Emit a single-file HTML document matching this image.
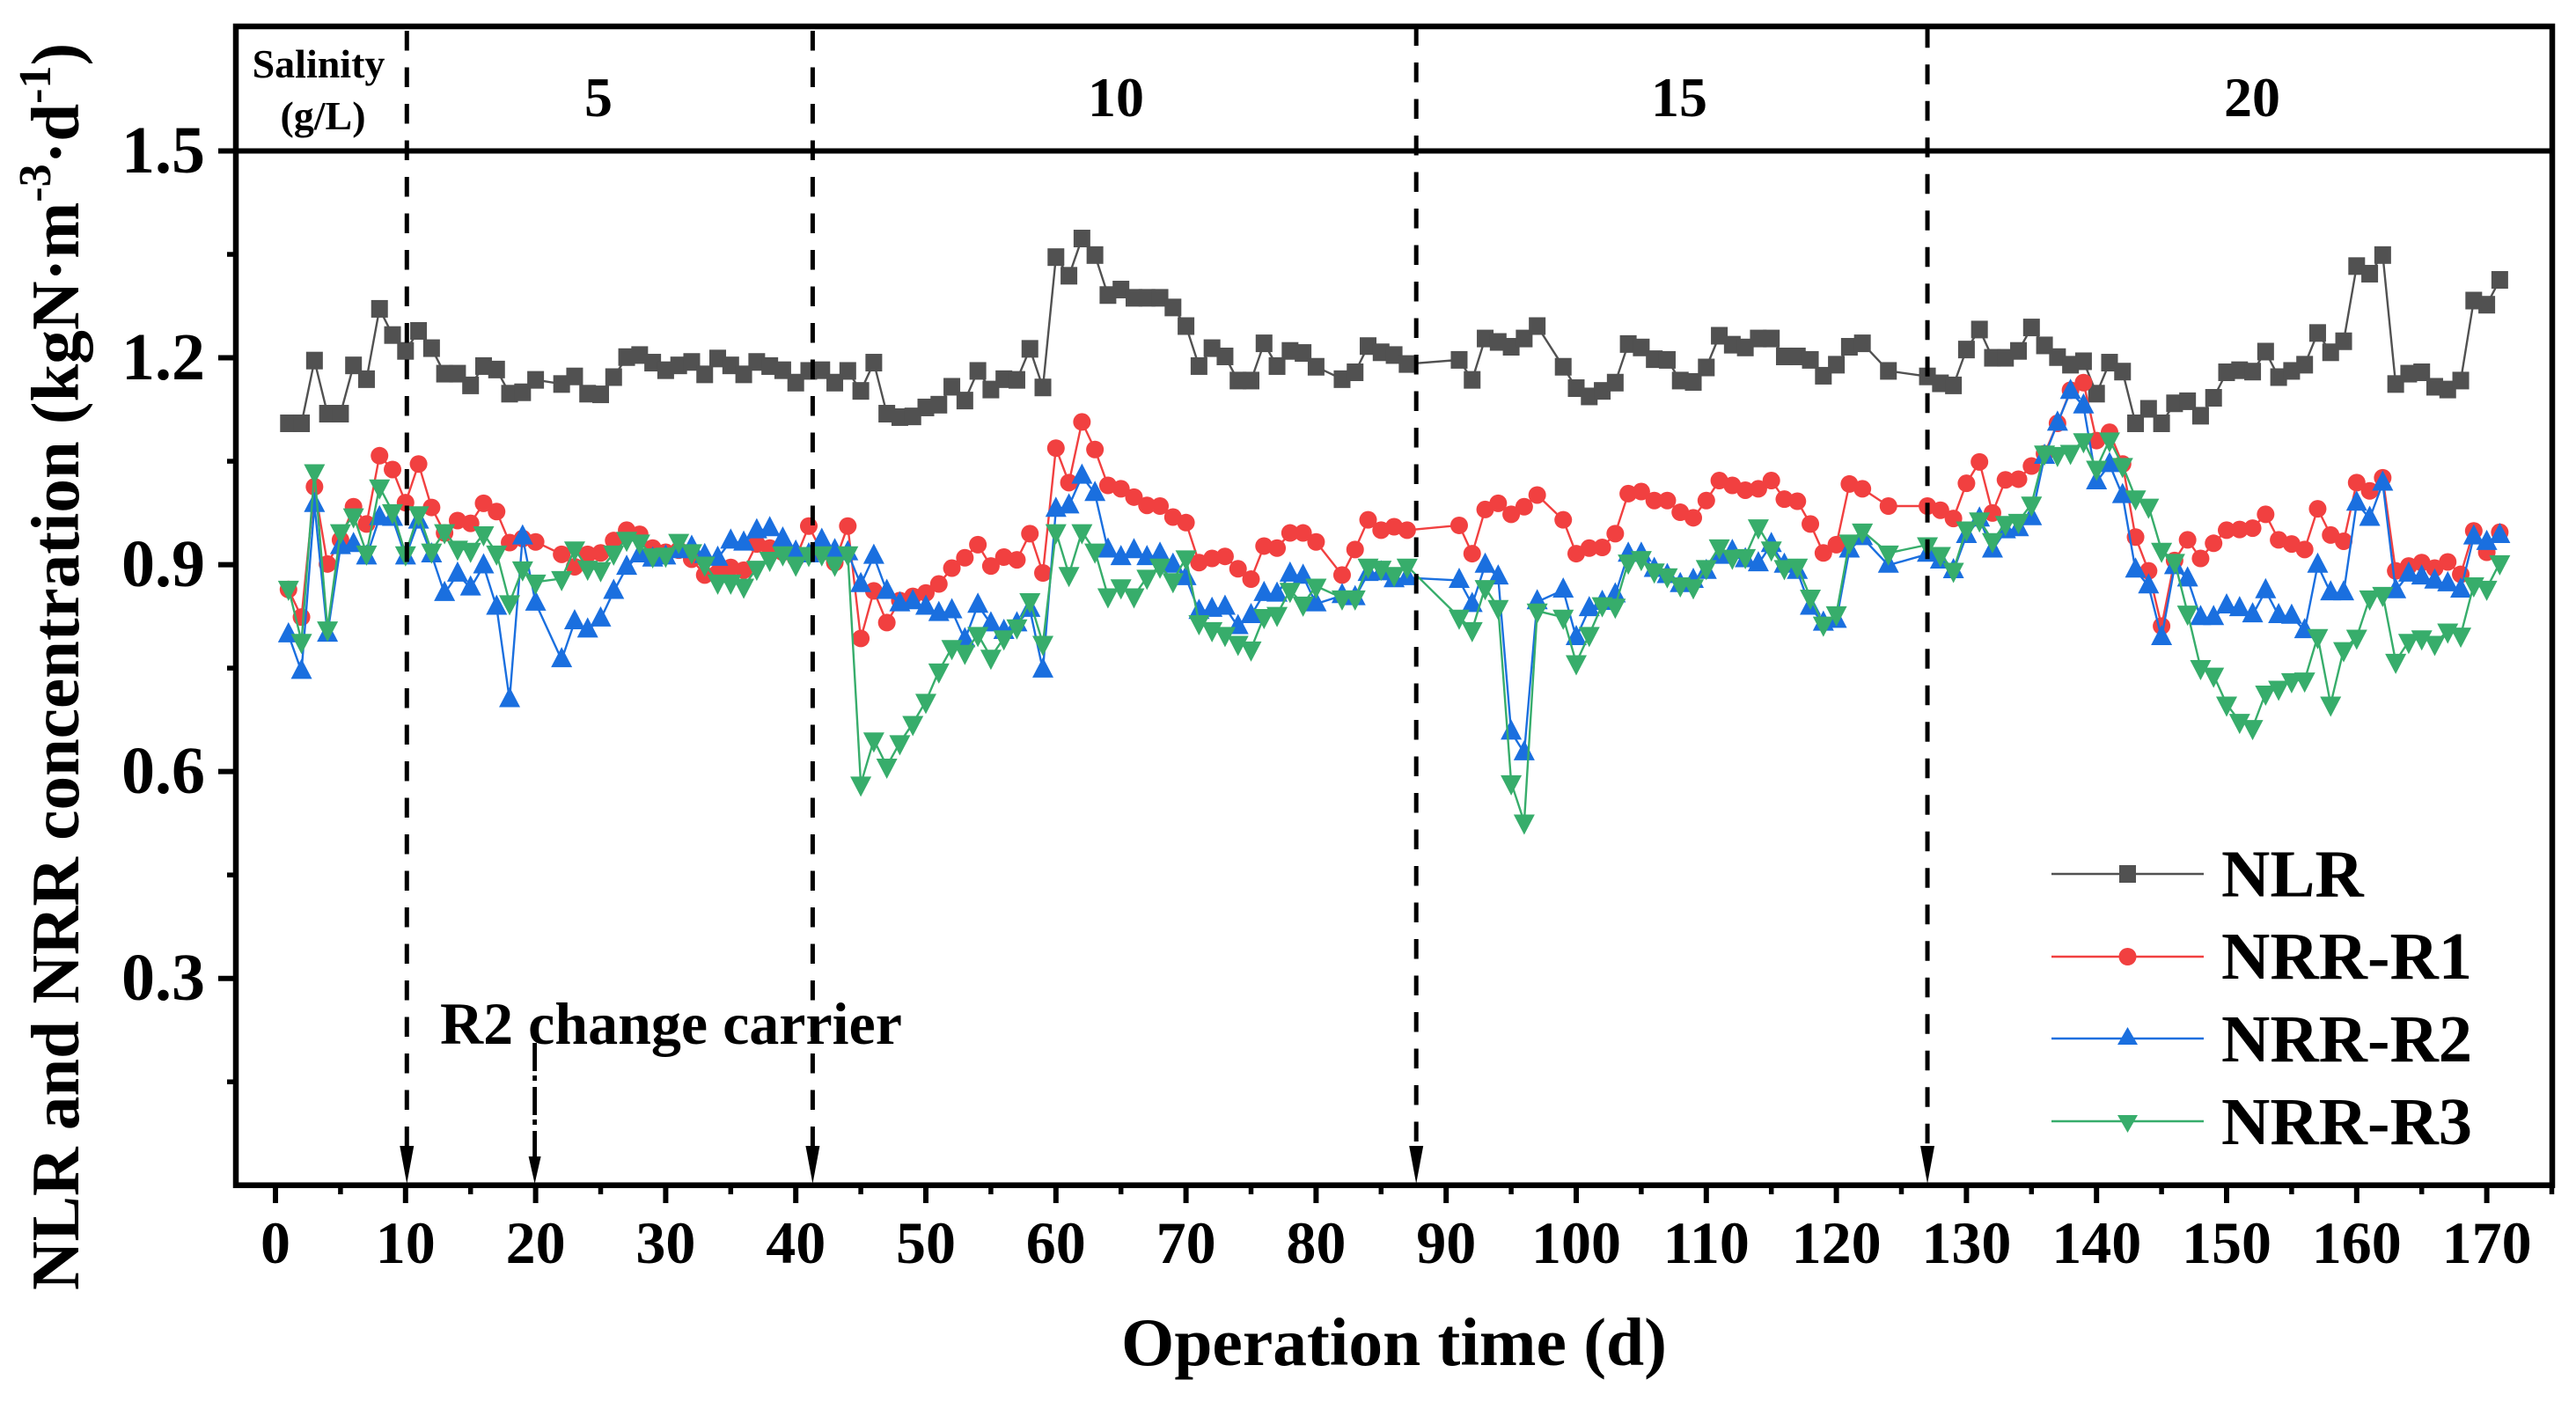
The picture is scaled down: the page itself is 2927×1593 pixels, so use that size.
<!DOCTYPE html>
<html lang="en">
<head>
<meta charset="utf-8">
<title>NLR and NRR concentration</title>
<style>
html,body{margin:0;padding:0;background:#fff;}
svg{display:block;}
text{font-family:"Liberation Serif",serif;font-weight:bold;fill:#000;}
</style>
</head>
<body>
<svg id="chart" xmlns="http://www.w3.org/2000/svg" width="2927" height="1593" viewBox="0 0 2927 1593">
  <rect width="2927" height="1593" fill="#fff"/>
  <g id="ticks"></g>
  <g id="series"></g>
  <g id="dividers"></g>
  <rect x="268" y="30" width="2632" height="1316.7" fill="none" stroke="#000" stroke-width="6.5"/>
  <text x="362" y="88" font-size="46" text-anchor="middle">Salinity</text>
  <text x="367" y="147" font-size="46" text-anchor="middle">(g/L)</text>
  <text x="680" y="132" font-size="64" text-anchor="middle">5</text>
  <text x="1268" y="132" font-size="64" text-anchor="middle">10</text>
  <text x="1908" y="132" font-size="64" text-anchor="middle">15</text>
  <text x="2559" y="132" font-size="64" text-anchor="middle">20</text>
  <text x="500" y="1186" font-size="68">R2 change carrier</text>
  <text x="1584" y="1551" font-size="77.5" text-anchor="middle">Operation time (d)</text>
  <text transform="translate(89 1466) rotate(-90)" font-size="77">NLR and NRR concentration (kgN·m<tspan font-size="52" dy="-32">-3</tspan><tspan dy="32">·d</tspan><tspan font-size="52" dy="-32">-1</tspan><tspan dy="32">)</tspan></text>
  <g id="legend">
    <g>
      <line x1="2331" x2="2504" y1="993" y2="993" stroke="#515151" stroke-width="2.4"/>
      <rect x="2408" y="983" width="19" height="20" fill="#515151"/>
      <text x="2524" y="1018.5" font-size="76.6">NLR</text>
    </g>
    <g>
      <line x1="2331" x2="2504" y1="1087" y2="1087" stroke="#f14040" stroke-width="2.4"/>
      <circle cx="2417.5" cy="1087" r="10" fill="#f14040"/>
      <text x="2524" y="1112" font-size="76.6">NRR-R1</text>
    </g>
    <g>
      <line x1="2331" x2="2504" y1="1180" y2="1180" stroke="#1a6fdf" stroke-width="2.4"/>
      <polygon points="2417.5,1167 2429,1187 2406,1187" fill="#1a6fdf"/>
      <text x="2524" y="1206" font-size="76.6">NRR-R2</text>
    </g>
    <g>
      <line x1="2331" x2="2504" y1="1274" y2="1274" stroke="#37ad6b" stroke-width="2.4"/>
      <polygon points="2406,1267 2429,1267 2417.5,1287" fill="#37ad6b"/>
      <text x="2524" y="1300" font-size="76.6">NRR-R3</text>
    </g>
  </g>
</svg>
<script>
const xTickLabels = [0,10,20,30,40,50,60,70,80,90,100,110,120,130,140,150,160,170];
const xMinorTicks = [5,15,25,35,45,55,65,75,85,95,105,115,125,135,145,155,165,175];
const yTickLabels = ["0.3","0.6","0.9","1.2","1.5"];
const yMinorTicks = [0.15,0.45,0.75,1.05,1.35];
const salinityChangeDays = [10.1,41.3,87.7,127];
const carrierChangeDay = 20;
const days = [1,2,3,4,5,6,7,8,9,10,11,12,13,14,15,16,17,18,19,20,
22,23,24,25,26,27,28,29,30,31,32,33,34,35,36,37,38,39,40,41,42,43,
44,45,46,47,48,49,50,51,52,53,54,55,56,57,58,59,60,61,62,63,64,65,66,67,68,69,70,71,72,73,74,75,76,77,78,79,80,
82,83,84,85,86,87,
91,92,93,94,95,96,97,
99,100,101,102,103,104,105,106,107,108,109,110,111,112,113,114,115,116,117,118,119,120,121,122,
124,127,
128,129,130,131,132,133,134,135,136,137,138,139,140,141,142,143,144,145,146,147,148,149,150,151,152,153,154,155,156,157,158,159,160,161,162,163,164,165,166,167,168,169,170,171];
const nlr = [1.105,1.105,1.196,1.119,1.119,1.189,1.169,1.271,1.233,1.210,1.239,1.214,1.177,1.177,1.160,1.188,1.183,1.148,1.150,1.168,
1.162,1.173,1.148,1.147,1.172,1.201,1.204,1.193,1.182,1.189,1.194,1.176,1.199,1.189,1.176,1.194,1.188,1.182,1.164,1.181,1.182,1.164,
1.181,1.152,1.193,1.119,1.114,1.115,1.128,1.132,1.158,1.138,1.181,1.154,1.169,1.168,1.213,1.157,1.346,1.319,1.373,1.349,1.291,1.299,1.287,1.287,1.287,1.273,1.246,1.188,1.214,1.202,1.167,1.167,1.221,1.188,1.210,1.207,1.187,
1.169,1.179,1.217,1.208,1.204,1.191,
1.197,1.168,1.228,1.223,1.216,1.228,1.246,
1.187,1.156,1.144,1.152,1.164,1.220,1.215,1.198,1.197,1.167,1.165,1.186,1.232,1.219,1.215,1.228,1.228,1.202,1.202,1.197,1.174,1.190,1.216,1.221,
1.181,1.173,
1.163,1.160,1.212,1.241,1.200,1.200,1.210,1.244,1.218,1.201,1.190,1.195,1.148,1.193,1.180,1.105,1.126,1.105,1.134,1.137,1.116,1.142,1.179,1.182,1.180,1.209,1.172,1.181,1.190,1.236,1.208,1.224,1.333,1.322,1.349,1.162,1.177,1.179,1.158,1.154,1.167,1.283,1.277,1.313];
const nrrR1 = [.864,.824,1.013,.901,.936,.984,.959,1.058,1.038,.990,1.046,.983,.946,.964,.960,.989,.977,.932,.938,.933,
.915,.897,.915,.917,.935,.950,.944,.924,.918,.921,.908,.885,.888,.896,.892,.930,.924,.918,.909,.956,.918,.903,
.956,.793,.862,.816,.848,.854,.859,.872,.895,.910,.929,.898,.911,.907,.945,.888,1.069,1.019,1.107,1.067,1.015,1.010,.998,.986,.985,.969,.961,.903,.909,.912,.894,.879,.927,.924,.946,.946,.933,
.885,.922,.965,.950,.955,.950,
.957,.916,.980,.989,.973,.984,1.001,
.965,.916,.924,.925,.945,1.003,1.006,.993,.993,.976,.968,.993,1.022,1.015,1.008,1.010,1.022,.995,.992,.959,.917,.929,1.017,1.010,
.985,.985,
.979,.967,1.018,1.049,.975,1.023,1.024,1.043,1.061,1.105,1.153,1.164,1.080,1.092,1.046,.940,.891,.811,.906,.936,.909,.931,.950,.951,.953,.973,.936,.930,.922,.981,.943,.934,1.019,1.007,1.026,.891,.898,.903,.895,.904,.886,.949,.918,.947];
const nrrR2 = [.802,.749,.991,.803,.930,.933,.915,.972,.971,.915,.967,.918,.862,.890,.870,.902,.842,.708,.944,.848,
.766,.821,.809,.825,.865,.900,.918,.912,.915,.924,.929,.917,.913,.938,.935,.953,.956,.941,.922,.918,.939,.924,
.921,.875,.916,.865,.847,.850,.842,.833,.837,.795,.845,.818,.807,.818,.839,.751,.984,.989,1.032,1.007,.925,.914,.924,.914,.919,.903,.885,.836,.839,.842,.814,.830,.862,.861,.890,.887,.847,
.859,.856,.891,.892,.882,.885,
.881,.846,.903,.886,.661,.631,.850,
.867,.798,.840,.849,.860,.919,.919,.897,.888,.875,.881,.894,.916,.923,.911,.905,.933,.903,.894,.842,.819,.823,.925,.943,
.903,.919,
.909,.895,.946,.970,.925,.953,.956,.972,1.061,1.109,1.155,1.134,1.024,1.049,1.004,.896,.873,.798,.901,.883,.827,.827,.844,.840,.831,.866,.830,.829,.808,.903,.863,.863,.993,.971,1.022,.866,.890,.886,.880,.876,.867,.944,.936,.946];
const nrrR3 = [.862,.785,1.031,.803,.944,.967,.913,1.009,.973,.912,.970,.916,.944,.920,.917,.941,.913,.841,.890,.871,
.876,.919,.891,.889,.913,.933,.929,.909,.910,.930,.915,.897,.871,.871,.865,.891,.904,.912,.897,.911,.912,.897,
.912,.578,.642,.604,.638,.666,.698,.742,.776,.769,.795,.762,.790,.806,.844,.782,.944,.882,.944,.916,.851,.864,.851,.878,.894,.873,.906,.812,.802,.795,.782,.774,.821,.824,.859,.839,.865,
.848,.848,.894,.891,.882,.894,
.820,.802,.863,.834,.580,.523,.829,
.820,.754,.795,.838,.836,.900,.905,.887,.880,.867,.864,.892,.922,.907,.908,.951,.919,.892,.894,.849,.810,.825,.929,.945,
.913,.925,
.911,.888,.948,.961,.931,.956,.959,.984,1.058,1.056,1.059,1.076,1.036,1.077,1.040,.993,.981,.917,.901,.826,.747,.736,.694,.669,.660,.710,.717,.728,.729,.792,.694,.773,.791,.848,.853,.756,.785,.790,.782,.800,.794,.867,.862,.899];

const NS = 'http://www.w3.org/2000/svg';
function xScale(d){ return 313 + 14.78 * d; }
function yScale(v){ return 171.5 + (1.5 - v) * 783.5; }
function make(tag, attrs, parent){
  const el = document.createElementNS(NS, tag);
  for (const k in attrs) el.setAttribute(k, attrs[k]);
  parent.appendChild(el);
  return el;
}
const ticksG = document.getElementById('ticks');
const seriesG = document.getElementById('series');
const dividersG = document.getElementById('dividers');
const AXIS_BOTTOM = yScale(0);

xTickLabels.forEach(function(t){
  const tick = make('line', {x1:xScale(t), x2:xScale(t), y1:AXIS_BOTTOM, y2:1367, stroke:'#000', 'stroke-width':6}, ticksG);
  
  
  const label = make('text', {x:xScale(t), y:1435, 'font-size':68, 'text-anchor':'middle'}, ticksG);
  label.textContent = t;
  
  
});
xMinorTicks.forEach(function(t){
  const tick = make('line', {x1:xScale(t), x2:xScale(t), y1:AXIS_BOTTOM, y2:1357, stroke:'#000', 'stroke-width':5.5}, ticksG);
  
  
});
yTickLabels.forEach(function(t){
  const y = yScale(parseFloat(t));
  const tick = make('line', {x1:248, x2:t === '1.5' ? 2900 : 268, y1:y, y2:y, stroke:'#000', 'stroke-width':6}, ticksG);
  
  
  const label = make('text', {x:233, y:y + 24.5, 'font-size':76, 'text-anchor':'end'}, ticksG);
  label.textContent = t;
  
  
});
yMinorTicks.forEach(function(t){
  const tick = make('line', {x1:258, x2:268, y1:yScale(t), y2:yScale(t), stroke:'#000', 'stroke-width':5.5}, ticksG);
  
  
});

function drawSeries(name, values, color, shape, lineDy){
  const g = make('g', {}, seriesG);
  
  
  const pts = values.map(function(v, i){ return xScale(days[i]).toFixed(1) + ',' + (yScale(v) + lineDy).toFixed(1); }).join(' ');
  const line = make('polyline', {points:pts, fill:'none', stroke:color, 'stroke-width':2.4, 'stroke-linejoin':'round'}, g);
  
  
  values.forEach(function(v, i){
    const x = xScale(days[i]), y = yScale(v);
    let m;
    if (shape === 'square') m = make('rect', {x:x - 9.5, y:y - 10, width:19, height:20, fill:color}, g);
    if (shape === 'circle') m = make('circle', {cx:x, cy:y, r:10, fill:color}, g);
    if (shape === 'up') m = make('polygon', {points:(x) + ',' + (y - 11.5) + ' ' + (x + 12) + ',' + (y + 11.5) + ' ' + (x - 12) + ',' + (y + 11.5), fill:color}, g);
    if (shape === 'down') m = make('polygon', {points:(x - 12) + ',' + (y - 11.5) + ' ' + (x + 12) + ',' + (y - 11.5) + ' ' + (x) + ',' + (y + 11.5), fill:color}, g);
    
    
  });
}
drawSeries('series-nlr', nlr, '#515151', 'square', 0);
drawSeries('series-nrr-r1', nrrR1, '#f14040', 'circle', 0);
drawSeries('series-nrr-r2', nrrR2, '#1a6fdf', 'up', 3);
drawSeries('series-nrr-r3', nrrR3, '#37ad6b', 'down', -3);

const dividerStarts = [35,35,29.5,31.7];
salinityChangeDays.forEach(function(d, i){
  const x = xScale(d);
  const line = make('line', {x1:x, x2:x, y1:dividerStarts[i], y2:1310, stroke:'#000', 'stroke-width':5, 'stroke-dasharray':'22.5 19'}, dividersG);
  
  
  const head = make('polygon', {points:(x - 8) + ',1302 ' + (x + 8) + ',1302 ' + x + ',1345', fill:'#000'}, dividersG);
  
  
});
const cx = xScale(carrierChangeDay) - 1;
const carrierLine = make('line', {x1:cx, x2:cx, y1:1185, y2:1318, stroke:'#000', 'stroke-width':4.8, 'stroke-dasharray':'32 5 6 7'}, dividersG);


const carrierHead = make('polygon', {points:(cx - 7) + ',1314 ' + (cx + 7) + ',1314 ' + cx + ',1345', fill:'#000'}, dividersG);


</script>
</body>
</html>
